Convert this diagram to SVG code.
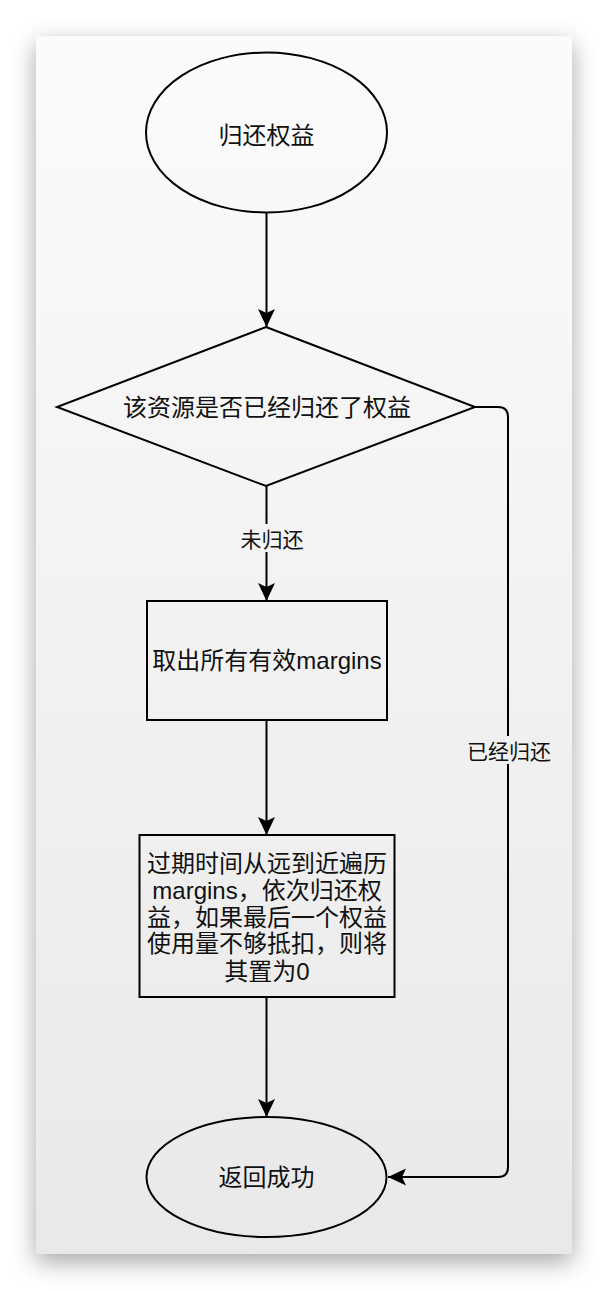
<svg xmlns="http://www.w3.org/2000/svg" width="608" height="1290" viewBox="0 0 608 1290">
  <defs>
    <linearGradient id="cardBg" x1="0" y1="0" x2="0" y2="1">
      <stop offset="0" stop-color="#fbfbfb"/>
      <stop offset="0.5" stop-color="#f2f2f2"/>
      <stop offset="1" stop-color="#e9e9e9"/>
    </linearGradient>
    <filter id="shadow" x="-20%" y="-10%" width="140%" height="120%">
      <feDropShadow dx="0" dy="8" stdDeviation="12" flood-color="#000" flood-opacity="0.35"/>
    </filter>
    <marker id="arrow" viewBox="0 0 20 20" refX="19" refY="10" markerWidth="20" markerHeight="20" markerUnits="userSpaceOnUse" orient="auto">
      <path d="M19,10 L1,1.5 L5,10 L1,18.5 Z" fill="#000"/>
    </marker>
  </defs>
  <style>
    .shape { fill: none; stroke: #000; stroke-width: 2; }
    .edge { fill: none; stroke: #000; stroke-width: 2; marker-end: url(#arrow); }
    .t { font-family: "Liberation Sans", "Noto Sans CJK SC", sans-serif; font-size: 24px; fill: #111; text-anchor: middle; dominant-baseline: central; }
    .lbl { font-family: "Liberation Sans", "Noto Sans CJK SC", sans-serif; font-size: 21px; fill: #111; text-anchor: middle; dominant-baseline: central; }
  </style>

  <rect width="608" height="1290" fill="#ffffff"/>
  <rect id="card" x="36" y="36" width="536" height="1218" fill="url(#cardBg)" filter="url(#shadow)"/>

  <g id="connectors">
    <path class="edge" d="M266.5,212 V327"/>
    <path class="edge" d="M266.5,486 V601"/>
    <path class="edge" d="M266.5,720 V835"/>
    <path class="edge" d="M266.5,997 V1117"/>
    <path class="edge" d="M475,407 H498 Q508,407 508,417 V1167 Q508,1177 498,1177 H388"/>
    <rect x="238" y="524" width="68" height="28" fill="#f4f4f4"/>
    <text class="lbl" x="272" y="539">未归还</text>
    <rect x="464" y="736" width="90" height="28" fill="#f0f0f0"/>
    <text class="lbl" x="509" y="751">已经归还</text>
  </g>

  <g id="start">
    <ellipse class="shape" cx="266.5" cy="132.5" rx="120.5" ry="80"/>
    <text class="t" x="266.5" y="135">归还权益</text>
  </g>

  <g id="decision">
    <path class="shape" d="M266,327 L475,407 L266,486 L57,407 Z"/>
    <text class="t" x="267" y="407">该资源是否已经归还了权益</text>
  </g>

  <g id="fetch">
    <rect class="shape" x="147" y="601" width="240" height="119"/>
    <text class="t" x="267" y="660">取出所有有效margins</text>
  </g>

  <g id="traverse">
    <rect class="shape" x="139.5" y="835" width="255" height="162"/>
    <text class="t" x="267" y="863">过期时间从远到近遍历</text>
    <text class="t" x="267" y="890">margins，依次归还权</text>
    <text class="t" x="267" y="917">益，如果最后一个权益</text>
    <text class="t" x="267" y="943">使用量不够抵扣，则将</text>
    <text class="t" x="267" y="971">其置为0</text>
  </g>

  <g id="end">
    <ellipse class="shape" cx="266.5" cy="1177" rx="120" ry="60"/>
    <text class="t" x="266.5" y="1177">返回成功</text>
  </g>
</svg>
